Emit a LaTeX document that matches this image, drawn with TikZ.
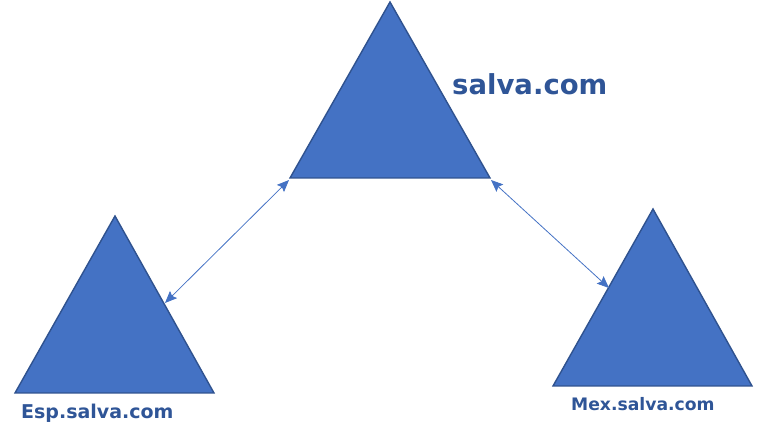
\documentclass[tikz,border=0pt]{standalone}
\usepackage{fontspec}
\setmainfont{DejaVu Sans}
\usetikzlibrary{arrows.meta}
\definecolor{trifill}{HTML}{4472C4}
\definecolor{triedge}{HTML}{2F528F}
\definecolor{labelblue}{HTML}{2F5597}
\tikzset{
  tri/.style={fill=trifill, draw=triedge, line width=1.4pt, line join=miter},
  link/.style={draw=trifill, line width=0.8pt, {Stealth[length=12pt,width=10pt,inset=2pt]}-{Stealth[length=12pt,width=10pt,inset=2pt]}},
  lbl/.style={anchor=base west, inner sep=0pt, text=labelblue, font=\bfseries}
}
\begin{document}
\begin{tikzpicture}[x=1pt,y=-1pt]
\useasboundingbox (0,0) rectangle (763,427);
% top triangle
\coordinate (tA) at (390,2);
\coordinate (tL) at (290,178);
\coordinate (tR) at (490,178);
% left triangle
\coordinate (lA) at (115,216);
\coordinate (lL) at (15,393);
\coordinate (lR) at (214,393);
% right triangle
\coordinate (rA) at (653,209);
\coordinate (rL) at (553,386);
\coordinate (rR) at (752,386);
\path[tri] (tA) -- (tR) -- (tL) -- cycle;
\path[tri] (lA) -- (lR) -- (lL) -- cycle;
\path[tri] (rA) -- (rR) -- (rL) -- cycle;
% arrow end points
\coordinate (a1s) at (289,180);
\coordinate (a1e) at (165,303);
\coordinate (a2s) at (491,180);
\coordinate (a2e) at (609,288);
\draw[link] (a1s) -- (a1e);
\draw[link] (a2s) -- (a2e);
% labels
\node[lbl, font=\fontsize{27.5}{30}\selectfont\bfseries] (main) at (452,95) {salva.com};
\node[lbl, font=\fontsize{19}{22}\selectfont\bfseries] (esp) at (21,418) {Esp.salva.com};
\node[lbl, font=\fontsize{17.2}{20}\selectfont\bfseries] (mex) at (571,410) {Mex.salva.com};
\end{tikzpicture}
\end{document}
